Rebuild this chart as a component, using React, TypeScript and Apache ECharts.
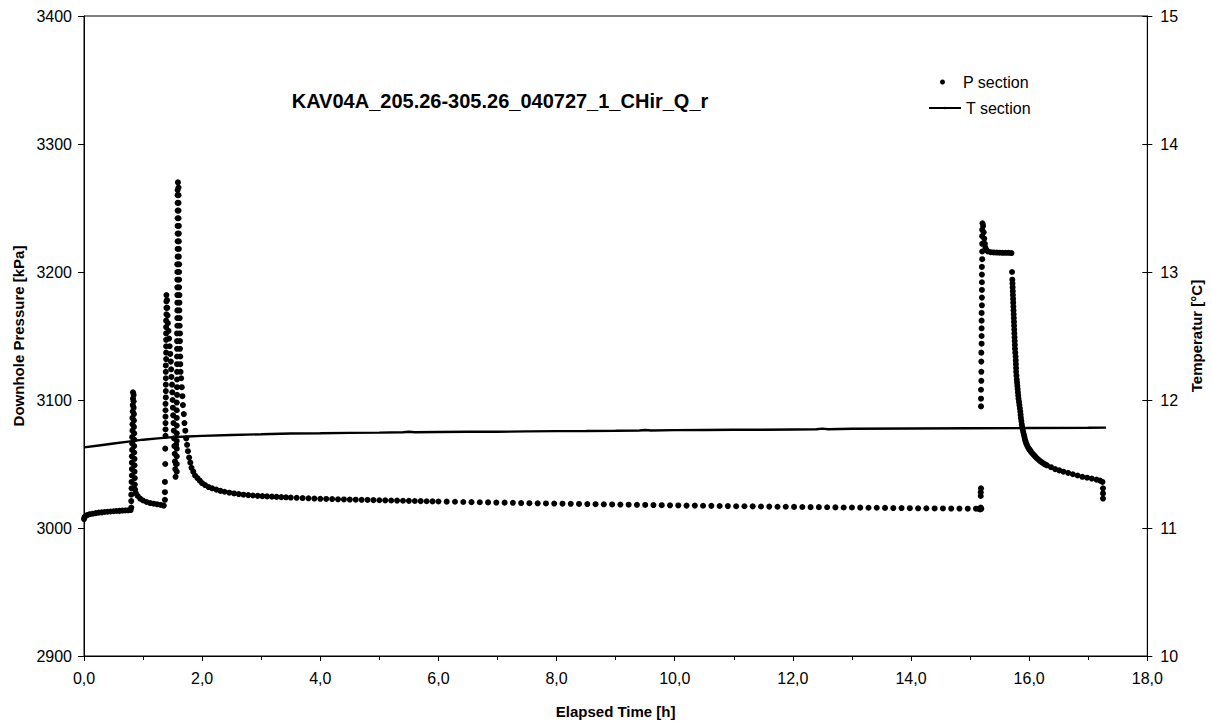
import React, { useEffect, useRef } from "react";
import * as echarts from "echarts";

const FONT = "'Liberation Sans', Arial, Helvetica, sans-serif";

const chartTitle = "KAV04A_205.26-305.26_040727_1_CHir_Q_r";
const seriesNames = ["P section", "T section"];
const axisNames = {
  x: "Elapsed Time [h]",
  left: "Downhole Pressure [kPa]",
  right: "Temperatur [°C]",
};

// Downhole pressure [elapsed hours, kPa], logged section by section
const pressureBaseline: number[][] = [
  [0.0, 3007], [0.01, 3008.5], [0.03, 3009.5], [0.06, 3010.2], [0.1, 3010.8], [0.15, 3011.2],
  [0.2, 3011.6], [0.25, 3012], [0.3, 3012.2], [0.35, 3012.5], [0.4, 3012.7], [0.45, 3012.9],
  [0.5, 3013.1], [0.55, 3013.3], [0.6, 3013.4], [0.65, 3013.6], [0.7, 3013.7], [0.75, 3013.8],
  [0.79, 3014],
];

const pressureFirstPulse: number[][] = [
  [0.8, 3016], [0.8, 3021], [0.8, 3026], [0.805, 3031], [0.805, 3036], [0.81, 3041], [0.81, 3046],
  [0.81, 3051], [0.81, 3056], [0.815, 3061], [0.815, 3066], [0.815, 3071], [0.82, 3076], [0.82, 3081],
  [0.82, 3086], [0.825, 3091], [0.825, 3096], [0.83, 3101], [0.83, 3106],
  [0.84, 3104], [0.84, 3099], [0.84, 3094], [0.845, 3089], [0.845, 3084], [0.845, 3079], [0.85, 3074],
  [0.85, 3069], [0.85, 3064], [0.85, 3059], [0.855, 3054], [0.855, 3049], [0.855, 3044], [0.86, 3039],
  [0.86, 3034], [0.865, 3030],
  [0.88, 3027], [0.91, 3025], [0.95, 3023], [1.0, 3021.5], [1.06, 3020.3], [1.12, 3019.5],
  [1.18, 3019], [1.24, 3018.5], [1.3, 3018], [1.35, 3017.5],
];

const pressureSecondPulse: number[][] = [
  [1.37, 3022], [1.37, 3028], [1.37, 3036], [1.375, 3050], [1.375, 3062],
  [1.38, 3072], [1.38, 3077], [1.38, 3082], [1.38, 3087], [1.38, 3092], [1.38, 3097],
  [1.385, 3102], [1.385, 3107], [1.385, 3112], [1.385, 3117], [1.385, 3122], [1.385, 3127],
  [1.39, 3132], [1.39, 3137], [1.39, 3142], [1.39, 3147], [1.39, 3152], [1.39, 3157], [1.39, 3162],
  [1.395, 3167], [1.395, 3172], [1.395, 3177], [1.395, 3182],
  [1.405, 3178], [1.41, 3172], [1.415, 3166], [1.42, 3160], [1.43, 3154], [1.44, 3148], [1.45, 3142],
  [1.46, 3136], [1.47, 3130], [1.475, 3124], [1.48, 3118], [1.49, 3112], [1.495, 3106], [1.5, 3100],
  [1.505, 3094], [1.51, 3088], [1.515, 3082], [1.52, 3076], [1.525, 3070], [1.53, 3064], [1.535, 3058],
  [1.54, 3052], [1.545, 3046], [1.55, 3040], [1.555, 3050], [1.56, 3065],
];

const pressureThirdPulse: number[][] = [
  [1.57, 3044], [1.57, 3050], [1.57, 3056], [1.57, 3062], [1.57, 3068], [1.57, 3074], [1.57, 3080],
  [1.57, 3086], [1.57, 3092], [1.57, 3098], [1.575, 3104], [1.575, 3110], [1.575, 3116], [1.575, 3122],
  [1.575, 3128], [1.575, 3134], [1.575, 3140], [1.575, 3146], [1.575, 3152], [1.58, 3158], [1.58, 3164],
  [1.58, 3170], [1.58, 3176], [1.58, 3182], [1.58, 3188], [1.58, 3194], [1.58, 3200], [1.58, 3206],
  [1.585, 3212], [1.585, 3218], [1.585, 3224], [1.585, 3230], [1.585, 3236], [1.585, 3242],
  [1.585, 3248], [1.585, 3254], [1.585, 3260], [1.585, 3264], [1.59, 3270],
  [1.6, 3266], [1.6, 3260], [1.6, 3254], [1.6, 3248], [1.6, 3242], [1.605, 3236], [1.605, 3230],
  [1.605, 3224], [1.605, 3218], [1.605, 3212], [1.61, 3206], [1.61, 3200], [1.61, 3194], [1.61, 3188],
  [1.615, 3182], [1.615, 3176], [1.615, 3170], [1.62, 3164], [1.62, 3158], [1.625, 3152], [1.625, 3146],
  [1.625, 3140], [1.63, 3134], [1.63, 3128], [1.635, 3122], [1.645, 3117], [1.655, 3110],
  [1.665, 3103], [1.675, 3096], [1.69, 3089], [1.7, 3082], [1.715, 3076], [1.73, 3070], [1.745, 3065],
  [1.76, 3060], [1.78, 3055], [1.8, 3051], [1.82, 3047], [1.85, 3044], [1.88, 3041], [1.92, 3039],
  [1.96, 3037], [2.0, 3035], [2.05, 3033.5], [2.11, 3032], [2.17, 3031], [2.24, 3030], [2.31, 3029],
  [2.38, 3028.3], [2.46, 3027.6], [2.54, 3027], [2.62, 3026.5], [2.7, 3026], [2.78, 3025.7],
  [2.86, 3025.4], [2.94, 3025.1], [3.02, 3024.9], [3.1, 3024.7], [3.18, 3024.5], [3.26, 3024.3],
  [3.34, 3024.1], [3.42, 3024], [3.5, 3023.8], [3.6, 3023.6], [3.7, 3023.4], [3.8, 3023.2],
  [3.9, 3023], [4.0, 3022.8],
];

const pressureRecovery: number[][] = [
  [4.1, 3022.7], [4.2, 3022.6], [4.3, 3022.4], [4.4, 3022.3], [4.5, 3022.2], [4.6, 3022.1],
  [4.7, 3022], [4.8, 3021.9], [4.9, 3021.8], [5.0, 3021.7], [5.1, 3021.6], [5.2, 3021.5],
  [5.3, 3021.4], [5.4, 3021.3], [5.5, 3021.2], [5.6, 3021.1], [5.7, 3021], [5.8, 3020.9],
  [5.9, 3020.8], [6.0, 3020.7], [6.14, 3020.6], [6.28, 3020.5], [6.42, 3020.3], [6.56, 3020.2],
  [6.7, 3020.1], [6.84, 3020], [6.98, 3019.9], [7.12, 3019.8], [7.26, 3019.7], [7.4, 3019.5],
  [7.54, 3019.4], [7.68, 3019.3], [7.82, 3019.2], [7.96, 3019.1], [8.1, 3019], [8.24, 3018.9],
  [8.38, 3018.8], [8.52, 3018.7], [8.66, 3018.6], [8.8, 3018.5], [8.94, 3018.4], [9.08, 3018.3],
  [9.22, 3018.2], [9.36, 3018.1], [9.5, 3018], [9.64, 3017.9], [9.78, 3017.8], [9.92, 3017.7],
  [10.06, 3017.6], [10.2, 3017.5], [10.34, 3017.5], [10.48, 3017.4], [10.62, 3017.3], [10.76, 3017.2],
  [10.9, 3017.1], [11.04, 3017], [11.18, 3017], [11.32, 3016.9], [11.46, 3016.8], [11.6, 3016.7],
  [11.74, 3016.6], [11.88, 3016.6], [12.02, 3016.5], [12.16, 3016.4], [12.3, 3016.3], [12.44, 3016.3],
  [12.58, 3016.2], [12.72, 3016.1], [12.86, 3016], [13.0, 3016], [13.14, 3015.9], [13.28, 3015.8],
  [13.42, 3015.8], [13.56, 3015.7], [13.7, 3015.6], [13.84, 3015.6], [13.98, 3015.5], [14.12, 3015.4],
  [14.26, 3015.4], [14.4, 3015.3], [14.54, 3015.3], [14.68, 3015.2], [14.82, 3015.2], [14.96, 3015.1],
  [15.1, 3015.1],
];

const pressureInjection: number[][] = [
  [15.15, 3015], [15.17, 3014.5], [15.18, 3016], [15.19, 3015], [15.18, 3025], [15.18, 3028],
  [15.185, 3031], [15.185, 3095], [15.185, 3101], [15.185, 3108], [15.19, 3115], [15.19, 3122],
  [15.19, 3130], [15.19, 3137], [15.195, 3144], [15.195, 3150], [15.195, 3156], [15.195, 3162],
  [15.195, 3168], [15.2, 3174], [15.2, 3180], [15.2, 3186], [15.2, 3192], [15.2, 3198], [15.2, 3204],
  [15.205, 3210], [15.205, 3216], [15.205, 3222], [15.205, 3228], [15.205, 3233], [15.21, 3238],
  [15.22, 3236], [15.23, 3231], [15.24, 3226], [15.25, 3222], [15.26, 3219], [15.28, 3217],
  [15.3, 3216], [15.35, 3215.5], [15.4, 3215.3], [15.45, 3215.2], [15.5, 3215.1], [15.55, 3215],
  [15.6, 3215], [15.65, 3215], [15.7, 3214.8],
];

const pressureFalloff: number[][] = [
  [15.71, 3200], [15.715, 3194], [15.718, 3191], [15.72, 3188], [15.723, 3185], [15.725, 3182],
  [15.728, 3179], [15.73, 3176], [15.733, 3173], [15.735, 3170], [15.738, 3167], [15.74, 3164],
  [15.743, 3161], [15.745, 3158], [15.748, 3155], [15.75, 3152], [15.753, 3149], [15.755, 3146],
  [15.758, 3143], [15.76, 3140], [15.765, 3137], [15.77, 3134], [15.773, 3131], [15.775, 3128],
  [15.778, 3125], [15.78, 3122], [15.785, 3119], [15.79, 3116], [15.795, 3113.5], [15.8, 3111],
  [15.805, 3108.5], [15.81, 3106], [15.815, 3103.5], [15.82, 3101], [15.828, 3098.5], [15.835, 3096],
  [15.843, 3093.5], [15.85, 3091], [15.855, 3088.5], [15.86, 3086], [15.868, 3083.5], [15.875, 3081],
  [15.882, 3079], [15.89, 3077], [15.9, 3075], [15.91, 3073], [15.92, 3071], [15.93, 3069],
  [15.94, 3067.5], [15.95, 3066], [15.965, 3064.5], [15.98, 3063], [15.995, 3062], [16.01, 3061],
  [16.025, 3060], [16.04, 3059], [16.06, 3058], [16.08, 3057], [16.105, 3055.7], [16.13, 3054.5],
  [16.155, 3053.5], [16.18, 3052.5], [16.21, 3051.5], [16.24, 3050.5], [16.27, 3049.7],
  [16.3, 3049], [16.37, 3047.5], [16.44, 3046],
  [16.51, 3045], [16.58, 3044], [16.66, 3043], [16.74, 3042], [16.82, 3041], [16.9, 3040],
  [16.98, 3039.3], [17.06, 3038.6], [17.14, 3037.8], [17.2, 3037], [17.24, 3036],
  [17.25, 3031], [17.25, 3027], [17.25, 3023],
];

// Section temperature [elapsed hours, °C]
const temperatureSection: number[][] = [
  [0, 11.63], [0.25, 11.645], [0.5, 11.66], [0.75, 11.675], [1.0, 11.69], [1.25, 11.7], [1.5, 11.71],
  [1.75, 11.715], [2.0, 11.72], [2.5, 11.727], [3.0, 11.732], [3.5, 11.738], [4.0, 11.74],
  [4.5, 11.743], [5.0, 11.745], [5.4, 11.748], [5.5, 11.752], [5.6, 11.748], [6.0, 11.75],
  [6.5, 11.752], [7.0, 11.752], [7.5, 11.755], [8.0, 11.757], [8.5, 11.758], [9.0, 11.76],
  [9.4, 11.762], [9.5, 11.766], [9.6, 11.762], [10.0, 11.765], [10.5, 11.766], [11.0, 11.767],
  [11.5, 11.768], [12.0, 11.77], [12.4, 11.772], [12.5, 11.776], [12.6, 11.772], [13.0, 11.775],
  [14.0, 11.777], [15.0, 11.779], [16.0, 11.781], [17.0, 11.783], [17.3, 11.784],
];

const timeRange = { min: 0, max: 18, interval: 2 };
const pressureRange = { min: 2900, max: 3400, interval: 100 };
const temperatureRange = { min: 10, max: 15, interval: 1 };

const pressureSection = [
  ...pressureBaseline,
  ...pressureFirstPulse,
  ...pressureSecondPulse,
  ...pressureThirdPulse,
  ...pressureRecovery,
  ...pressureInjection,
  ...pressureFalloff,
];

export default function App() {
  const ref = useRef<HTMLDivElement>(null);

  useEffect(() => {
    if (!ref.current) return;
    const chart = echarts.init(ref.current, undefined, { renderer: "svg" });
    const black = "#000000";
    const tickLabel = { color: black, fontSize: 16, fontFamily: FONT };
    const nameStyle = { color: black, fontSize: 15, fontWeight: "bold" as const, fontFamily: FONT };

    chart.setOption({
      animation: false,
      backgroundColor: "#ffffff",
      title: {
        text: chartTitle,
        left: 495,
        top: 86,
        textAlign: "center",
        textStyle: { color: black, fontSize: 20, fontWeight: "bold", fontFamily: FONT },
      },
      legend: [
        {
          data: [{ name: seriesNames[0], icon: "circle" }],
          left: 940,
          top: 74,
          padding: 0,
          itemWidth: 5,
          itemHeight: 5,
          textStyle: { color: black, fontSize: 16, fontFamily: FONT, padding: [0, 0, 0, 13] },
        },
        {
          data: [{ name: seriesNames[1] }],
          left: 928,
          top: 100,
          padding: 0,
          itemWidth: 32,
          itemHeight: 3,
          textStyle: { color: black, fontSize: 16, fontFamily: FONT },
        },
      ],
      grid: {
        left: 84,
        right: 64,
        top: 16,
        bottom: 65,
        show: true,
        borderColor: black,
        borderWidth: 1,
        backgroundColor: "transparent",
      },
      xAxis: {
        type: "value",
        min: timeRange.min,
        max: timeRange.max,
        interval: timeRange.interval,
        name: axisNames.x,
        nameLocation: "middle",
        nameGap: 48,
        nameTextStyle: nameStyle,
        axisLine: { lineStyle: { color: black, width: 1 } },
        axisTick: { show: true, length: 5, lineStyle: { color: black } },
        minorTick: { show: true, splitNumber: 2, length: 4, lineStyle: { color: black } },
        axisLabel: {
          ...tickLabel,
          margin: 14,
          formatter: (v: number) => v.toFixed(1).replace(".", ","),
        },
        splitLine: { show: false },
      },
      yAxis: [
        {
          type: "value",
          position: "left",
          min: pressureRange.min,
          max: pressureRange.max,
          interval: pressureRange.interval,
          name: axisNames.left,
          nameLocation: "middle",
          nameRotate: 90,
          nameGap: 58,
          nameTextStyle: nameStyle,
          axisLine: { show: true, lineStyle: { color: black, width: 1 } },
          axisTick: { show: true, length: 6, lineStyle: { color: black } },
          axisLabel: { ...tickLabel, margin: 12, formatter: (v: number) => String(v) },
          splitLine: { show: false },
        },
        {
          type: "value",
          position: "right",
          min: temperatureRange.min,
          max: temperatureRange.max,
          interval: temperatureRange.interval,
          name: axisNames.right,
          nameLocation: "middle",
          nameRotate: 90,
          nameGap: 31,
          nameTextStyle: nameStyle,
          axisLine: { show: true, lineStyle: { color: black, width: 1 } },
          axisTick: { show: true, length: 5, lineStyle: { color: black } },
          axisLabel: { ...tickLabel, margin: 13, formatter: (v: number) => String(v) },
          splitLine: { show: false },
        },
        {
          // inner half of the crossing ticks on the temperature axis
          type: "value",
          position: "right",
          min: temperatureRange.min,
          max: temperatureRange.max,
          interval: temperatureRange.interval,
          axisLine: { show: false },
          axisTick: { show: true, inside: true, length: 5, lineStyle: { color: black } },
          axisLabel: { show: false },
          splitLine: { show: false },
        },
      ],
      series: [
        {
          name: seriesNames[0],
          type: "scatter",
          yAxisIndex: 0,
          data: pressureSection,
          symbol: "circle",
          symbolSize: 6,
          itemStyle: { color: black, opacity: 1 },
          silent: true,
        },
        {
          name: seriesNames[1],
          type: "line",
          yAxisIndex: 1,
          data: temperatureSection,
          symbol: "circle",
          symbolSize: 3,
          showSymbol: false,
          lineStyle: { color: black, width: 2.4 },
          itemStyle: { color: black },
          silent: true,
        },
      ],
    });

    return () => chart.dispose();
  }, []);

  return (
    <div
      ref={ref}
      style={{ position: "absolute", left: 0, top: 0, width: 1212, height: 724, background: "#fff" }}
    />
  );
}
